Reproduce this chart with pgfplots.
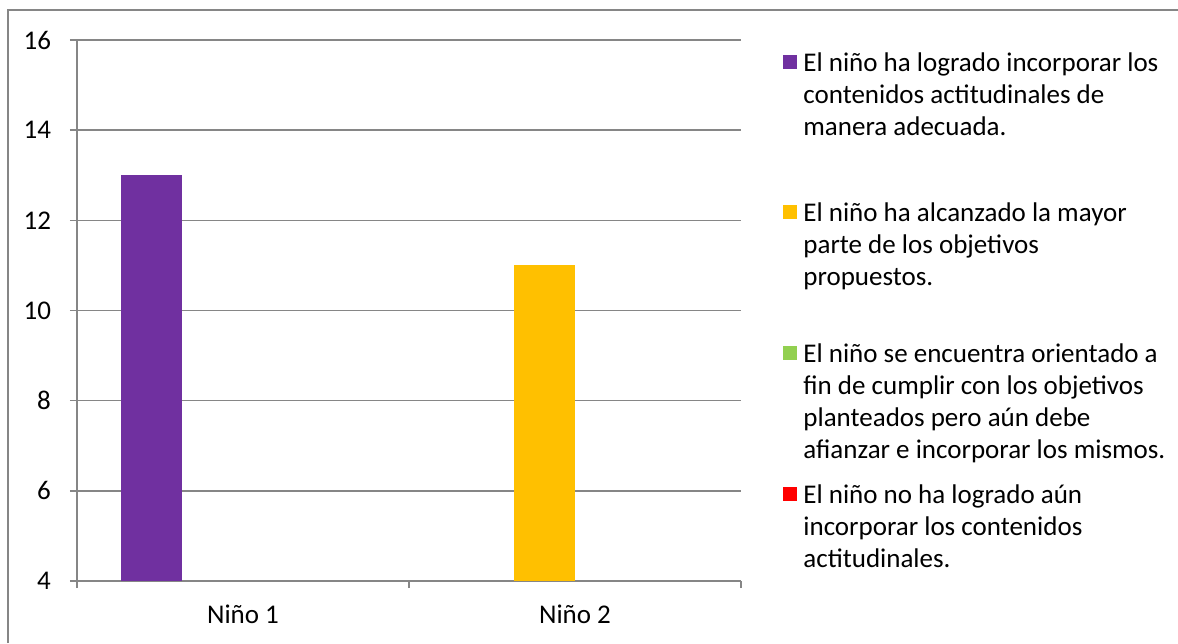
\documentclass[border=0pt]{standalone}
\usepackage{pgfplots}
\pgfplotsset{compat=1.18}
\usepackage{fontspec}
\setmainfont{Carlito}
\definecolor{cpurple}{RGB}{112,48,160}
\definecolor{cyellow}{RGB}{255,192,0}
\definecolor{cgreen}{RGB}{146,208,80}
\definecolor{cred}{RGB}{255,0,0}
\definecolor{cgrid}{RGB}{134,134,134}
\newcommand{\lfont}{\fontsize{13.5pt}{16pt}\selectfont}
\newcommand{\entry}[2]{\parbox[b][#1][t]{200pt}{\raggedright\strut #2}}
\pgfplotsset{sq/.style={legend image code/.code={\path[fill=none,draw=none] (0pt,-3.5pt) rectangle (7pt,3.5pt);
      \fill[##1, overlay] (0pt,#1-3.5pt) rectangle (7pt,#1+3.5pt);}}}
\begin{document}
\begin{tikzpicture}
\path[use as bounding box] (0,0) rectangle (589pt,321.5pt);
\draw[cgrid, line width=0.75pt] (4pt,0) -- (4pt,316.5pt) -- (589pt,316.5pt);
\begin{axis}[
  at={(38.5pt,31pt)}, anchor=south west,
  scale only axis, width=332pt, height=270.5pt,
  font=\lfont,
  /pgf/number format/assume math mode=true,
  ybar=0pt, bar width=30.5pt,
  xmin=-0.5, xmax=1.5, ymin=4, ymax=16,
  ytick={4,6,...,16},
  xtick={0,1}, xticklabels={Niño 1, Niño 2},
  minor xtick={-0.5,0.5,1.5},
  major x tick style={draw=none},
  minor x tick style={cgrid, line width=0.75pt},
  major y tick style={cgrid, line width=0.75pt},
  major tick length=3.5pt, minor tick length=3.5pt,
  tick align=outside,
  axis x line*=bottom, axis y line*=left,
  axis line style={cgrid, line width=0.75pt, -},
  ymajorgrids, grid style={cgrid, line width=0.75pt},
  tick label style={font=\lfont},
  yticklabel style={xshift=-6pt},
  xticklabel style={yshift=-5pt},
  legend cell align=left,
  legend style={at={(rel axis cs:1,1)}, anchor=north west, xshift=21pt, yshift=-4.5pt,
    draw=none, fill=none, inner sep=0pt, nodes={inner sep=0pt}, column sep=3pt, font=\lfont},
]
\addplot[fill=cpurple, draw=none, bar shift=-45.75pt, sq=30.9pt] coordinates {(0,13)};
\addlegendentry{\entry{73.2pt}{El niño ha logrado incorporar los\newline contenidos actitudinales de\newline manera adecuada.}}
\addplot[fill=cyellow, draw=none, bar shift=-15.25pt, sq=28.9pt] coordinates {(1,11)};
\addlegendentry{\entry{69.2pt}{El niño ha alcanzado la mayor\newline parte de los objetivos\newline propuestos.}}
\addlegendimage{fill=cgreen, draw=none, sq=28.65pt}
\addlegendentry{\entry{68.7pt}{El niño se encuentra orientado a\newline fin de cumplir con los objetivos\newline planteados pero aún debe\newline afianzar e incorporar los mismos.}}
\addlegendimage{fill=cred, draw=none, sq=18.3pt}
\addlegendentry{\entry{48pt}{El niño no ha logrado aún\newline incorporar los contenidos\newline actitudinales.}}
\end{axis}
\end{tikzpicture}
\end{document}
